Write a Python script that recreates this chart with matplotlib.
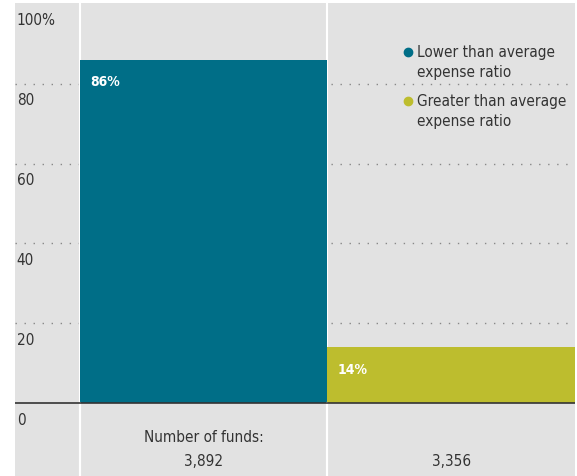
import matplotlib.pyplot as plt

# data
categories = ['Lower than average\nexpense ratio', 'Greater than average\nexpense ratio']
shares = [86, 14]
fund_counts = ['3,892', '3,356']
bar_colors = ['#006E87', '#BDBD2E']
y_ticks = [0, 20, 40, 60, 80, 100]

plt.rcParams['font.family'] = ['DejaVu Sans']
plt.rcParams['font.stretch'] = 'condensed'

fig = plt.figure(figsize=(5.77, 4.77), dpi=100)
ax = fig.add_axes([15 / 577, 0, 560 / 577, 473 / 477])
ax.set_facecolor('#E2E2E2')
ax.set_xlim(-0.262, 2.0)
ax.set_ylim(-18.25, 100.25)

# dotted gridlines
for t in y_ticks[1:-1]:
    ax.axhline(t, color='#888888', lw=1, ls=(0, (1, 5.5)), zorder=1)

# bars fill each column
x = list(range(len(shares)))
ax.bar([i + 0.5 for i in x], shares, width=1.0, color=bar_colors, zorder=2)

# white column separators
for xv in [0, 1]:
    ax.axvline(xv, color='white', lw=1.5, zorder=1.5)
    ax.axvline(xv, color='white', lw=1.5, ymax=18.25 / 118.5, zorder=3)

# baseline
ax.axhline(0, color='#333333', lw=1.2, zorder=4)

# tick labels
for t in y_ticks:
    lab = f'{t}%' if t == 100 else str(t)
    ax.text(-0.255, t - 2.1, lab, ha='left', va='top', fontsize=11, color='#333333')

# bar value labels
for i, v in enumerate(shares):
    ax.text(i + 0.04, v - 3.6, f'{v}%', ha='left', va='top', fontsize=10,
            fontweight='bold', color='white', zorder=5)

# fund counts
ax.text(0.5, -8.3, 'Number of funds:', ha='center', va='center', fontsize=11, color='#333333')
for i, c in enumerate(fund_counts):
    ax.text(i + 0.5, -14.3, c, ha='center', va='center', fontsize=11, color='#333333')

# legend, drawn by hand so the dot sits on the first line
for k, (cat, col) in enumerate(zip(categories, bar_colors)):
    yk = 0.8965 - k * 0.1035
    ax.plot([0.702], [yk], marker='o', ls='', color=col, markersize=6,
            transform=ax.transAxes, zorder=5)
    ax.text(0.717, yk + 0.016, cat, ha='left', va='top', fontsize=11,
            color='#333333', linespacing=1.35, transform=ax.transAxes)

ax.set_xticks([])
ax.set_yticks([])
for s in ax.spines.values():
    s.set_visible(False)

fig.savefig('out.png', dpi=100)
